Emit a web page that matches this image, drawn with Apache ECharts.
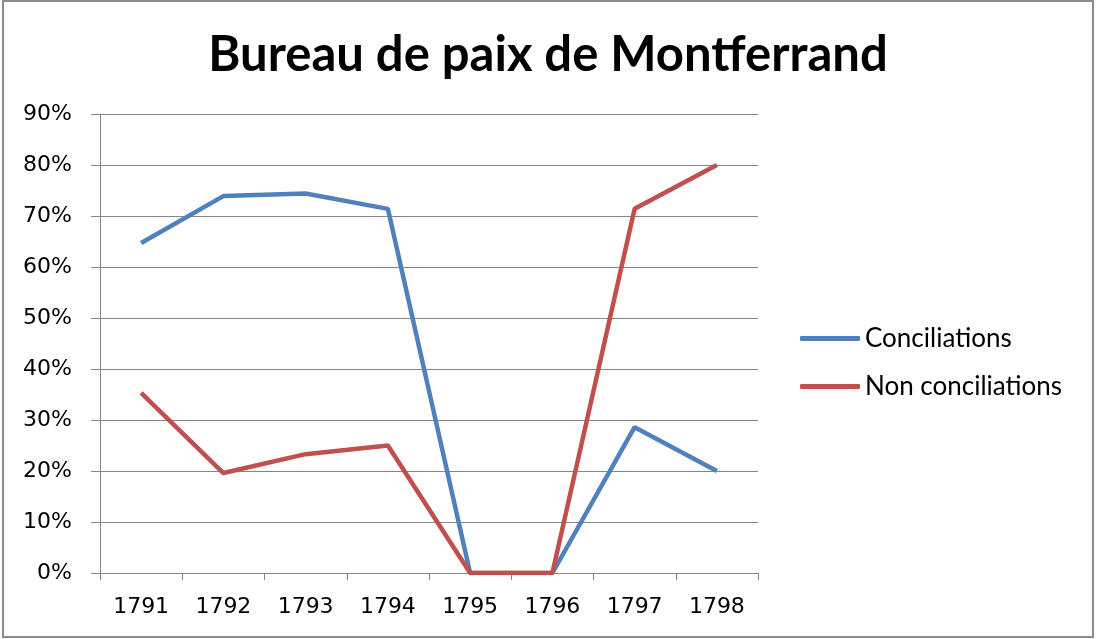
<!DOCTYPE html>
<html><head><meta charset="utf-8">
<script src="https://cdn.jsdelivr.net/npm/echarts@6/dist/echarts.min.js"></script>
<style>html,body{margin:0;padding:0;background:#fff}#c{width:1096px;height:639px}</style>
</head><body><div id="c"></div>
<script>
const categories = ['1791','1792','1793','1794','1795','1796','1797','1798'];
const conciliations = [64.7, 73.9, 74.4, 71.4, 0, 0, 28.6, 20.0];
const nonConciliations = [35.3, 19.6, 23.3, 25.0, 0, 0, 71.4, 80.0];
const yTicks = [0,10,20,30,40,50,60,70,80,90];

const chart = echarts.init(document.getElementById('c'));
chart.setOption({
  animation: false,
  backgroundColor: '#fff',
  title: {
    text: 'Bureau de paix de Montferrand',
    left: 'center', top: 26,
    textStyle: {fontFamily: 'Lato', fontWeight: 'bold', fontSize: 49, color: '#000'}
  },
  graphic: [{type:'rect', shape:{x:3,y:1,width:1090,height:636}, style:{fill:'none', stroke:'#8c8c8c', lineWidth:2}, silent:true}],
  legend: {
    orient: 'vertical', left: 800, top: 325, itemGap: 21, padding: 0,
    icon: 'roundRect', itemWidth: 60, itemHeight: 5,
    textStyle: {fontFamily: 'Lato', fontSize: 26, color: '#000', lineHeight: 27},
    data: ['Conciliations','Non conciliations']
  },
  grid: {left: 100, right: 338, top: 114, bottom: 66},
  xAxis: {
    type: 'category', data: categories, boundaryGap: true,
    axisLine: {lineStyle: {color: '#868686', width: 1}},
    axisTick: {show: true, alignWithLabel: false, length: 7, lineStyle: {color: '#868686'}},
    axisLabel: {fontFamily: 'DejaVu Sans', fontSize: 22, color: '#000', margin: 23}
  },
  yAxis: {
    type: 'value', min: 0, max: 90, interval: 10,
    axisLine: {show: true, lineStyle: {color: '#868686'}},
    axisTick: {show: true, length: 9, lineStyle: {color: '#868686'}},
    splitLine: {lineStyle: {color: '#868686', width: 1}},
    axisLabel: {fontFamily: 'DejaVu Sans', fontSize: 22, color: '#000', margin: 28,
      formatter: v => yTicks.includes(v) ? v + '%' : ''}
  },
  series: [
    {name: 'Conciliations', type: 'line', data: conciliations, showSymbol: false, symbol: 'none',
     lineStyle: {color: '#4F81BD', width: 4.5}, itemStyle: {color: '#4F81BD'}},
    {name: 'Non conciliations', type: 'line', data: nonConciliations, showSymbol: false, symbol: 'none',
     lineStyle: {color: '#C0504D', width: 4.5}, itemStyle: {color: '#C0504D'}}
  ]
});
</script></body></html>
